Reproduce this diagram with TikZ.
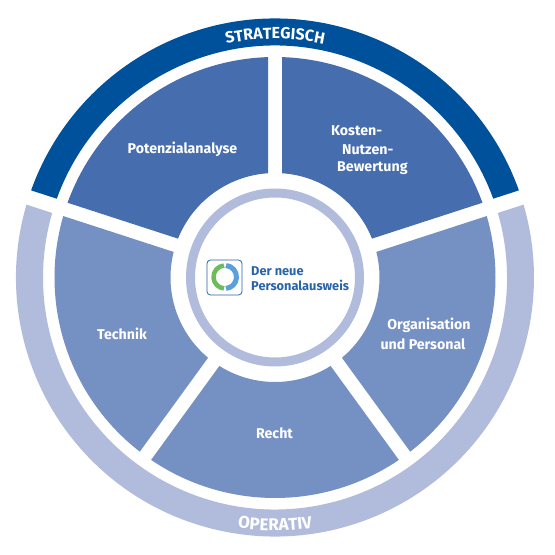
\documentclass[tikz,border=0pt]{standalone}
\usepackage{fontspec}
\setmainfont{Fira Sans}
\usetikzlibrary{decorations.text}
\definecolor{ringdark}{HTML}{00519C}
\definecolor{ringlight}{HTML}{B1BCDC}
\definecolor{secdark}{HTML}{466DAD}
\definecolor{seclight}{HTML}{7590C3}
\definecolor{logoblue}{HTML}{2A64A8}
\definecolor{logogreen}{HTML}{6DBB5B}
\definecolor{logosky}{HTML}{5AA0DC}
\newcommand{\annsec}[6]{% start, end, outer, inner, half gap, colour
  \pgfmathsetmacro{\aO}{#1+asin(#5/#3)}
  \pgfmathsetmacro{\bO}{#2-asin(#5/#3)}
  \pgfmathsetmacro{\aI}{#1+asin(#5/#4)}
  \pgfmathsetmacro{\bI}{#2-asin(#5/#4)}
  \fill[#6] (\aO:#3) arc[start angle=\aO,end angle=\bO,radius=#3] -- (\bI:#4) arc[start angle=\bI,end angle=\aI,radius=#4] -- cycle;
}
\tikzset{
  seclabel/.style={text=white,font=\bfseries\fontsize{14.2}{19}\selectfont,align=center,inner sep=0pt},
  logolabel/.style={text=logoblue,font=\bfseries\fontsize{12.8}{14}\selectfont,align=left,inner sep=0pt,anchor=west},
}
\begin{document}
\begin{tikzpicture}[x=1pt,y=1pt]
\useasboundingbox (0,0) rectangle (555,555);
\fill[white] (0,0) rectangle (555,555);
\begin{scope}[shift={(275,277.5)}]
  \annsec{18}{162}{259}{232}{7.5}{ringdark}
  \annsec{162}{378}{259}{232}{7.5}{ringlight}
  \annsec{90}{162}{220.5}{104.5}{7}{secdark}
  \annsec{18}{90}{220.5}{104.5}{7}{secdark}
  \annsec{162}{234}{220.5}{104.5}{7}{seclight}
  \annsec{234}{306}{220.5}{104.5}{7}{seclight}
  \annsec{306}{378}{220.5}{104.5}{7}{seclight}
  \draw[ringlight,line width=9pt] (0,0) circle[radius=84.5];
  \path[decorate,decoration={text along path,text align=center,text color=white,
     text={|\bfseries\fontsize{16}{18}\selectfont|STRATEGISCH}}]
     (112:238.5) arc[start angle=112,end angle=68,radius=238.5];
  \path[decorate,decoration={text along path,text align=center,text color=white,
     text={|\bfseries\fontsize{17}{19}\selectfont|OPERATIV}}]
     (250:253) arc[start angle=250,end angle=290,radius=253];
\end{scope}
\node[seclabel] (pot) at (182.5,405.5) {Potenzialanalyse};
\node[seclabel,anchor=west] (kos) at (331,424.5) {Kosten-};
\node[seclabel,anchor=west] (nut) at (342,405.5) {Nutzen-};
\node[seclabel,anchor=west] (bew) at (337,386.5) {Bewertung};
\node[seclabel] (tec) at (122,221) {Technik};
\node[seclabel] (org) at (429,229.5) {Organisation};
\node[seclabel] (und) at (423,210.5) {und Personal};
\node[seclabel] (rec) at (274.5,121.5) {Recht};
% logo
\draw[logoblue,line width=0.8pt,rounded corners=3.5pt] (207,260) rectangle (242,295);
\draw[logogreen,line width=4.5pt] (224,289.5) arc[start angle=95,end angle=265,radius=11.5];
\draw[logosky,line width=5pt] (226,289.5) arc[start angle=85,end angle=-85,radius=11.5];
\node[logolabel] (l1) at (251,284) {Der neue};
\node[logolabel] (l2) at (251,270) {Personalausweis};
\end{tikzpicture}
\end{document}
